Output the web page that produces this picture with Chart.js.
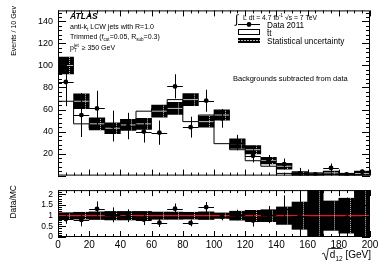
<!DOCTYPE html>
<html>
<head>
<meta charset="utf-8">
<script src="https://cdn.jsdelivr.net/npm/chart.js@4.4.1/dist/chart.umd.min.js"></script>
<style>
html, body { margin: 0; padding: 0; background: #fff; }
#wrap { position: relative; width: 390px; height: 265px; overflow: hidden; }
#top { position: absolute; left: 0; top: 0; }
#bot { position: absolute; left: 0; top: 180px; }
</style>
</head>
<body>
<div id="wrap">
  <canvas id="top" width="390" height="186"></canvas>
  <canvas id="bot" width="390" height="85"></canvas>
</div>
<script>
// sqrt(d12) bins, 10 GeV wide
const binCenters = [5, 15, 25, 35, 45, 55, 65, 75, 85, 95, 105, 115, 125, 135, 145, 155, 165, 175, 185, 195];
const mcEvents   = [100, 67.5, 47, 43, 46, 47, 58.5, 61, 69, 49, 55, 29, 23.5, 13.5, 8.5, 2, 0.3, 2.5, 1, 2];
const mcStatErr  = [7.7, 6.8, 5.5, 5, 5, 5, 5.5, 5.5, 5.5, 5, 4.7, 4.3, 3.8, 3, 2.6, 1.7, 1.5, 1.5, 1, 2];
const dataEvents = [85, 55, 61, 45, 45, 40, 39, 81, 44, 68, 52, 30, 18, 13.7, 10.5, 2, 1, 7, 1, 3.5];
const dataErr    = [22, 20, 16, 14, 12, 10, 11, 11, 9.5, 10, 8.5, 7, 6, 5, 5, 5, 1.5, 4, 1.2, 2];

const ratioValues = [0.84, 0.8, 1.32, 1.04, 1.0, 0.82, 0.67, 1.33, 0.66, 1.4, 0.95, 1.03, 0.77, 1.05, 1.3, 1.0, null, null, 0.9, null];
const ratioErr    = [0.22, 0.3, 0.35, 0.35, 0.3, 0.26, 0.2, 0.24, 0.16, 0.24, 0.17, 0.25, 0.28, 0.4, 0.65, 1.6, null, null, 0.95, null];
const mcRatioErr  = [0.14, 0.16, 0.18, 0.2, 0.2, 0.2, 0.17, 0.17, 0.16, 0.18, 0.13, 0.21, 0.25, 0.28, 0.41, 0.64, 1.5, 0.69, 0.82, 1.5];

const eventTicks = [20, 40, 60, 80, 100, 120, 140];
const ratioTicks = [0, 0.5, 1, 1.5, 2];
const xTickLabels = [0, 20, 40, 60, 80, 100, 120, 140, 160, 180, 200];
const binHalf = 5;

Chart.defaults.font.family = '"Liberation Sans", Arial, sans-serif';
Chart.defaults.color = '#000';
Chart.defaults.animation = false;

// ROOT-like frame: inward ticks on all sides, error bars, box hatch marks
const rootStyle = {
  id: 'rootStyle',
  afterDatasetsDraw(chart, args, o) {
    const { ctx, chartArea: a, scales: { x, y } } = chart;
    ctx.save();
    ctx.beginPath();
    ctx.rect(a.left, a.top, a.width, a.height);
    ctx.clip();

    // light hatch marks inside the uncertainty boxes
    ctx.strokeStyle = '#c8c8c8';
    ctx.lineWidth = 1;
    ctx.setLineDash([1, 1]);
    o.boxes.lo.forEach((lo, i) => {
      const px = Math.round(x.getPixelForValue(binCenters[i] + 2)) + 0.5;
      ctx.beginPath();
      ctx.moveTo(px, y.getPixelForValue(lo));
      ctx.lineTo(px, y.getPixelForValue(o.boxes.hi[i]));
      ctx.stroke();
    });
    ctx.setLineDash([]);

    // data error bars
    ctx.strokeStyle = '#000';
    o.points.vals.forEach((v, i) => {
      if (v === null) return;
      const cx = Math.round(x.getPixelForValue(binCenters[i])) + 0.5;
      const cy = y.getPixelForValue(v);
      ctx.beginPath();
      ctx.moveTo(x.getPixelForValue(binCenters[i] - binHalf), Math.round(cy) + 0.5);
      ctx.lineTo(x.getPixelForValue(binCenters[i] + binHalf), Math.round(cy) + 0.5);
      ctx.moveTo(cx, y.getPixelForValue(v - o.points.errs[i]));
      ctx.lineTo(cx, y.getPixelForValue(v + o.points.errs[i]));
      ctx.stroke();
    });
    ctx.restore();

    // frame + ticks
    ctx.save();
    ctx.strokeStyle = '#000';
    ctx.lineWidth = 1;
    ctx.strokeRect(a.left + 0.5, a.top + 0.5, a.width - 1, a.height - 1);
    ctx.beginPath();
    for (let i = 0; i * o.xStep <= x.max + 1e-9; i++) {
      const px = Math.round(x.getPixelForValue(i * o.xStep)) + 0.5;
      const len = i % o.xMajorEvery === 0 ? o.xMajorLen : o.xMinorLen;
      ctx.moveTo(px, a.bottom); ctx.lineTo(px, a.bottom - len);
      ctx.moveTo(px, a.top); ctx.lineTo(px, a.top + len);
    }
    for (let i = 0; i * o.yStep <= y.max + 1e-9; i++) {
      const py = Math.round(y.getPixelForValue(i * o.yStep)) + 0.5;
      const len = i % o.yMajorEvery === 0 ? o.yMajorLen : o.yMinorLen;
      ctx.moveTo(a.left, py); ctx.lineTo(a.left + len, py);
      ctx.moveTo(a.right, py); ctx.lineTo(a.right - len, py);
    }
    ctx.stroke();
    ctx.restore();
  }
};

// draws a run of text pieces; pieces may be sub/sup scripts
function richText(ctx, x, y, parts, size, style) {
  let cx = x;
  parts.forEach(p => {
    const s = p.sub || p.sup ? size * 0.65 : size;
    const dy = p.sub ? size * 0.3 : (p.sup ? -size * 0.4 : 0);
    ctx.font = (style || '') + ' ' + s + 'px "Liberation Sans", Arial, sans-serif';
    ctx.fillText(p.t, cx, y + dy);
    cx += ctx.measureText(p.t).width;
  });
  return cx;
}

const topText = {
  id: 'topText',
  afterDraw(chart) {
    const ctx = chart.ctx;
    ctx.save();
    ctx.fillStyle = '#000';
    ctx.textBaseline = 'alphabetic';
    ctx.textAlign = 'left';
    richText(ctx, 70, 19, [{ t: 'ATLAS' }], 8.5, 'italic bold');
    richText(ctx, 70, 29, [{ t: 'anti-k' }, { t: 't', sub: true }, { t: ' LCW jets with R=1.0' }], 7);
    richText(ctx, 70, 39, [{ t: 'Trimmed (f' }, { t: 'cut', sub: true }, { t: '=0.05, R' }, { t: 'sub', sub: true }, { t: '=0.3)' }], 7);
    let px = richText(ctx, 70, 50, [{ t: 'p' }], 7);
    richText(ctx, px, 50, [{ t: 'T', sub: true }], 7);
    px = richText(ctx, px, 50, [{ t: 'jet', sup: true }], 7);
    richText(ctx, px + 1, 50, [{ t: ' \u2265 350 GeV' }], 7);

    // luminosity
    richText(ctx, 235, 23, [{ t: '\u222B' }], 12);
    richText(ctx, 243, 19.5, [{ t: 'L dt = 4.7 fb' }, { t: '-1', sup: true }, { t: ' \u221As = 7 TeV' }], 6.8);

    // legend
    ctx.strokeStyle = '#000';
    ctx.lineWidth = 1;
    ctx.beginPath();
    ctx.moveTo(238, 24.5); ctx.lineTo(260, 24.5);
    ctx.stroke();
    ctx.beginPath();
    ctx.arc(249, 24.5, 2.4, 0, Math.PI * 2);
    ctx.fill();
    richText(ctx, 267, 27.5, [{ t: 'Data 2011' }], 8.2);
    ctx.strokeRect(238.5, 29.5, 21, 5);
    richText(ctx, 267, 36, [{ t: 't\u0304t' }], 8.2);
    ctx.fillRect(238, 38, 22, 5);
    ctx.strokeStyle = '#bbb';
    ctx.setLineDash([2, 1]);
    ctx.beginPath();
    ctx.moveTo(238, 40.5); ctx.lineTo(260, 40.5);
    ctx.stroke();
    ctx.setLineDash([]);
    richText(ctx, 267, 44, [{ t: 'Statistical uncertainty' }], 8.2);

    richText(ctx, 233, 81, [{ t: 'Backgrounds subtracted from data' }], 7.5);

    // y title
    ctx.translate(14, 6);
    ctx.rotate(-Math.PI / 2);
    ctx.textAlign = 'right';
    ctx.textBaseline = 'middle';
    ctx.font = '7px "Liberation Sans", Arial, sans-serif';
    ctx.fillText('Events / 10 Gev', 0, 0);
    ctx.restore();
  }
};

const botText = {
  id: 'botText',
  afterDraw(chart) {
    const ctx = chart.ctx;
    ctx.save();
    ctx.fillStyle = '#000';
    ctx.strokeStyle = '#000';
    ctx.textAlign = 'left';
    ctx.textBaseline = 'alphabetic';
    // x title: sqrt(d12) [GeV], right aligned at frame edge
    ctx.font = '10px "Liberation Sans", Arial, sans-serif';
    const wD = ctx.measureText('d').width;
    const wG = ctx.measureText(' [GeV]').width;
    ctx.font = '6.5px "Liberation Sans", Arial, sans-serif';
    const w12 = ctx.measureText('12').width;
    const right = 371;
    const xG = right - wG;
    const x12 = xG - w12;
    const xD = x12 - wD;
    const base = 78;
    ctx.font = '10px "Liberation Sans", Arial, sans-serif';
    ctx.fillText('d', xD, base);
    ctx.fillText(' [GeV]', xG, base);
    ctx.font = '6.5px "Liberation Sans", Arial, sans-serif';
    ctx.fillText('12', x12, base + 3);
    ctx.lineWidth = 0.8;
    ctx.beginPath();
    ctx.moveTo(xD - 8, base - 4);
    ctx.lineTo(xD - 6, base - 5);
    ctx.lineTo(xD - 3.5, base + 2);
    ctx.lineTo(xD - 1.5, base - 9.5);
    ctx.lineTo(xG, base - 9.5);
    ctx.stroke();

    ctx.translate(14, 5);
    ctx.rotate(-Math.PI / 2);
    ctx.textAlign = 'right';
    ctx.textBaseline = 'middle';
    ctx.font = '8.5px "Liberation Sans", Arial, sans-serif';
    ctx.fillText('Data/MC', 0, 0);
    ctx.restore();
  }
};

// MC histogram as step line through bin edges
const mcStep = binCenters.map((c, i) => ({ x: c - binHalf, y: mcEvents[i] }));
mcStep.push({ x: 200, y: mcEvents[mcEvents.length - 1] });
const mcCentre = [];
binCenters.forEach((c, i) => {
  mcCentre.push({ x: c - binHalf + 0.3, y: mcEvents[i] });
  mcCentre.push({ x: c + binHalf - 0.3, y: mcEvents[i] });
  mcCentre.push({ x: c + binHalf, y: null });
});
const mcLo = mcEvents.map((v, i) => v - mcStatErr[i]);
const mcHi = mcEvents.map((v, i) => v + mcStatErr[i]);

new Chart(document.getElementById('top'), {
  type: 'bar',
  data: {
    datasets: [
      {
        type: 'line', data: mcStep, stepped: 'after', borderColor: '#000', borderWidth: 1,
        pointRadius: 0, order: 4
      },
      {
        type: 'bar', data: binCenters.map((c, i) => ({ x: c, y: [mcLo[i], mcHi[i]] })),
        backgroundColor: '#000', borderWidth: 0, barPercentage: 1, categoryPercentage: 1, order: 3
      },
      {
        type: 'line', data: mcCentre, borderColor: '#bdbdbd', borderWidth: 1, pointRadius: 0,
        spanGaps: false, order: 2
      },
      {
        type: 'line', data: binCenters.map((c, i) => ({ x: c, y: dataEvents[i] })), showLine: false,
        pointRadius: 2.4, pointBackgroundColor: '#000', pointBorderWidth: 0, order: 1
      }
    ]
  },
  options: {
    responsive: false,
    layout: { padding: { left: 0, right: 20, top: 10, bottom: 1 } },
    plugins: {
      legend: { display: false },
      tooltip: { enabled: false },
      rootStyle: {
        xStep: 5, xMajorEvery: 4, xMajorLen: 6, xMinorLen: 3,
        yStep: 4, yMajorEvery: 5, yMajorLen: 8, yMinorLen: 4,
        boxes: { lo: mcLo, hi: mcHi },
        points: { vals: dataEvents, errs: dataErr }
      }
    },
    scales: {
      x: {
        type: 'linear', min: 0, max: 200, offset: false,
        grid: { display: false, offset: false }, border: { display: false },
        ticks: { display: false },
        afterFit: s => { s.height = 0; }
      },
      y: {
        min: 0, max: 150,
        grid: { display: false, drawTicks: false }, border: { display: false },
        ticks: { font: { size: 9 }, padding: 5, autoSkip: false, callback: v => String(v) },
        afterBuildTicks: s => { s.ticks = eventTicks.map(v => ({ value: v })); },
        afterFit: s => { s.width = 58; }
      }
    }
  },
  plugins: [rootStyle, topText]
});

const ratioLo = mcRatioErr.map(e => 1 - e);
const ratioHi = mcRatioErr.map(e => 1 + e);

new Chart(document.getElementById('bot'), {
  type: 'bar',
  data: {
    datasets: [
      {
        type: 'bar', data: binCenters.map((c, i) => ({ x: c, y: [ratioLo[i], ratioHi[i]] })),
        backgroundColor: '#000', borderWidth: 0, barPercentage: 1, categoryPercentage: 1, order: 3
      },
      {
        type: 'line', data: [{ x: 0, y: 1 }, { x: 200, y: 1 }], borderColor: '#e8141c', borderWidth: 1.3,
        pointRadius: 0, order: 2
      },
      {
        type: 'line', data: binCenters.map((c, i) => ({ x: c, y: ratioValues[i] })), showLine: false,
        pointRadius: 2.4, pointBackgroundColor: '#000', pointBorderWidth: 0, order: 1
      }
    ]
  },
  options: {
    responsive: false,
    layout: { padding: { left: 0, right: 20, top: 5, bottom: 0 } },
    plugins: {
      legend: { display: false },
      tooltip: { enabled: false },
      rootStyle: {
        xStep: 5, xMajorEvery: 4, xMajorLen: 6, xMinorLen: 3,
        yStep: 0.1, yMajorEvery: 5, yMajorLen: 8, yMinorLen: 4,
        boxes: { lo: ratioLo, hi: ratioHi },
        points: { vals: ratioValues, errs: ratioErr }
      }
    },
    scales: {
      x: {
        type: 'linear', min: 0, max: 200, offset: false,
        grid: { display: false, drawTicks: false, offset: false }, border: { display: false },
        ticks: { font: { size: 10 }, padding: 2, maxRotation: 0, autoSkip: false, callback: v => String(v) },
        afterBuildTicks: s => { s.ticks = xTickLabels.map(v => ({ value: v })); },
        afterFit: s => { s.height = 28; }
      },
      y: {
        min: 0, max: 2.2,
        grid: { display: false, drawTicks: false }, border: { display: false },
        ticks: { font: { size: 8.5 }, padding: 5, autoSkip: false, callback: v => String(v) },
        afterBuildTicks: s => { s.ticks = ratioTicks.map(v => ({ value: v })); },
        afterFit: s => { s.width = 58; }
      }
    }
  },
  plugins: [rootStyle, botText]
});
</script>
</body>
</html>
